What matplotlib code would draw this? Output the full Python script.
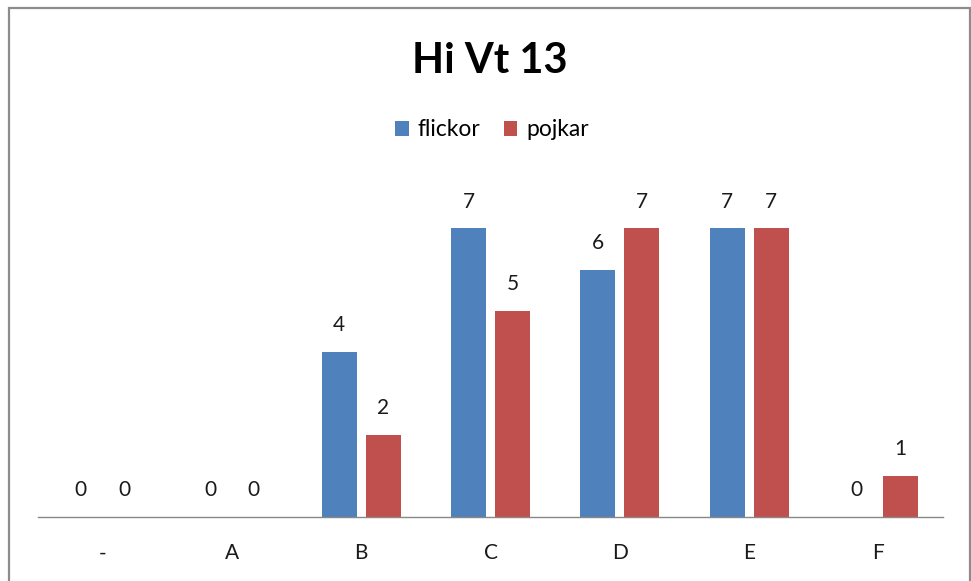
import matplotlib
matplotlib.use("Agg")
import matplotlib.pyplot as plt
from matplotlib.patches import Rectangle
import numpy as np

plt.rcParams['font.family'] = ['Lato', 'DejaVu Sans']

categories = ['-', 'A', 'B', 'C', 'D', 'E', 'F']
flickor = [0, 0, 4, 7, 6, 7, 0]
pojkar = [0, 0, 2, 5, 7, 7, 1]
title = 'Hi Vt 13'
series_names = ['flickor', 'pojkar']
colors = ['#4F81BD', '#C0504D']

W, H = 971, 581
fig = plt.figure(figsize=(W / 100, H / 100), dpi=100)

# outer border
fig.patches.append(Rectangle((9 / W, -0.05), (970 - 9) / W, 1.05 - 8 / H,
                             transform=fig.transFigure, fill=False,
                             edgecolor='#8c8c8c', linewidth=1.6))

ax_left, ax_right = 38 / W, 943 / W
ax_bottom = (H - 517) / H
ax_top = (H - 187) / H
ax = fig.add_axes([ax_left, ax_bottom, ax_right - ax_left, ax_top - ax_bottom])

x = np.arange(len(categories))
bw = 0.27
off = 0.17
b1 = ax.bar(x - off, flickor, bw, color=colors[0], label=series_names[0])
b2 = ax.bar(x + off, pojkar, bw, color=colors[1], label=series_names[1])

for bars, vals in ((b1, flickor), (b2, pojkar)):
    for rect, v in zip(bars, vals):
        ax.annotate(str(v), (rect.get_x() + rect.get_width() / 2, v),
                    xytext=(0, 12), textcoords='offset points',
                    ha='center', va='bottom', fontsize=15, color='#1a1a1a')

ax.set_xlim(-0.5, len(categories) - 0.5)
ax.set_ylim(0, 8)
ax.set_xticks(x)
ax.set_xticklabels(categories, fontsize=15, color='#1a1a1a')
ax.tick_params(axis='x', length=0, pad=19)
ax.set_yticks([])
for s in ['top', 'right', 'left']:
    ax.spines[s].set_visible(False)
ax.spines['bottom'].set_color('#888888')
ax.spines['bottom'].set_linewidth(1.0)

fig.text(490 / W, 1 - 61 / H, title, ha='center', va='center',
         fontsize=30, fontweight='bold', color='black')

fig.legend(handles=[b1, b2], labels=series_names, loc='center',
           bbox_to_anchor=(492 / W, 1 - 130 / H), ncol=2, frameon=False,
           fontsize=16.5, handlelength=0.6, handleheight=0.6,
           handletextpad=0.4, columnspacing=1.0)

fig.savefig('out.png', dpi=100)
